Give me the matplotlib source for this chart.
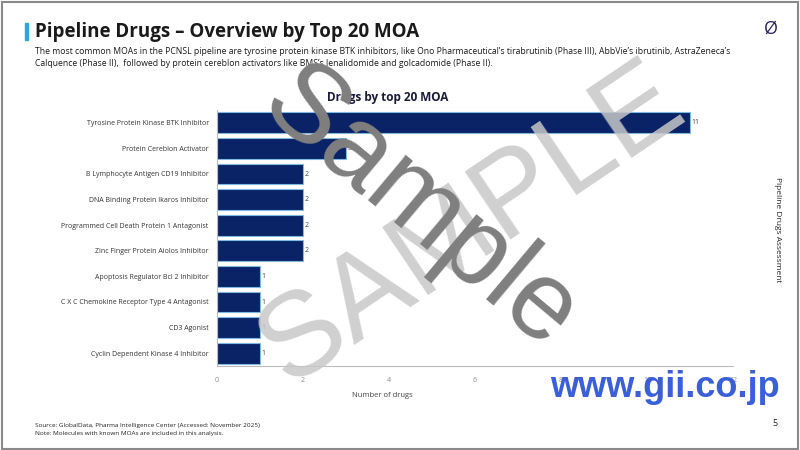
import matplotlib.pyplot as plt
from matplotlib.patches import Rectangle

moa = ['Tyrosine Protein Kinase BTK Inhibitor',
       'Protein Cereblon Activator',
       'B Lymphocyte Antigen CD19 Inhibitor',
       'DNA Binding Protein Ikaros Inhibitor',
       'Programmed Cell Death Protein 1 Antagonist',
       'Zinc Finger Protein Aiolos Inhibitor',
       'Apoptosis Regulator Bcl 2 Inhibitor',
       'C X C Chemokine Receptor Type 4 Antagonist',
       'CD3 Agonist',
       'Cyclin Dependent Kinase 4 Inhibitor']
drugs = [11, 3, 2, 2, 2, 2, 1, 1, 1, 1]
xticks = [0, 2, 4, 6, 8, 10, 12]

plt.rcParams['font.family'] = ['Open Sans', 'DejaVu Sans']

fig = plt.figure(figsize=(8, 4.5), dpi=100)
fig.patches.append(Rectangle((0.002, 0.003), 0.995, 0.993, transform=fig.transFigure,
                             fill=False, edgecolor='#8a8a8a', linewidth=1.5))

# header
fig.patches.append(Rectangle((25/800, 1-40/450), 3/800, 17/450, transform=fig.transFigure,
                             color='#29a8e0'))
fig.text(35/800, 1-32/450, 'Pipeline Drugs \u2013 Overview by Top 20 MOA', fontsize=13.5,
         fontweight='bold', color='#1a1a1a', va='center')
fig.text(35/800, 1-52/450,
         'The most common MOAs in the PCNSL pipeline are tyrosine protein kinase BTK inhibitors, like Ono Pharmaceutical\u2019s tirabrutinib (Phase III), AbbVie\u2019s ibrutinib, AstraZeneca\u2019s',
         fontsize=6.2, color='#1a1a1a', va='center')
fig.text(35/800, 1-64/450,
         'Calquence (Phase II),  followed by protein cereblon activators like BMS\u2019s lenalidomide and golcadomide (Phase II).',
         fontsize=6.2, color='#1a1a1a', va='center')
fig.text(771/800, 1-29/450, '\u00d8', fontsize=13, color='#2a2060', ha='center', va='center')
fig.text(777/800, 1-230/450, 'Pipeline Drugs Assessment', fontsize=6, color='#222222',
         rotation=270, ha='center', va='center')

# chart
ax = fig.add_axes([217/800, 1-366/450, 516/800, 256/450])
y = list(range(len(moa)))
ax.barh(y, drugs, height=0.82, color='#0a2266', edgecolor='#7fb8e0', linewidth=0.8)
for yi, v in zip(y, drugs):
    ax.text(v + 0.03, yi, str(v), fontsize=5, color='#444444', va='center')
ax.set_yticks(y)
ax.set_yticklabels(moa, fontsize=5, color='#333333')
ax.set_ylim(len(moa) - 0.5, -0.5)
ax.set_xlim(0, 12)
ax.set_xticks(xticks)
ax.set_xticklabels([str(t) for t in xticks], fontsize=5, color='#888888')
ax.tick_params(length=0, pad=8)
ax.tick_params(axis='y', pad=6)
for s in ['top', 'right']:
    ax.spines[s].set_visible(False)
ax.spines['left'].set_color('#bbbbbb')
ax.spines['bottom'].set_color('#bbbbbb')
ax.set_xlabel('Number of drugs', fontsize=5.5, color='#444444', labelpad=8)
ax.xaxis.set_label_coords(0.32, -0.1)
fig.text(388/800, 1-97/450, 'Drugs by top 20 MOA', fontsize=8.5, fontweight='bold',
         color='#1a1a3a', ha='center', va='center')

# footer
fig.text(35/800, 1-425/450, 'Source: GlobalData, Pharma Intelligence Center (Accessed: November 2025)',
         fontsize=4.6, color='#222222', va='center')
fig.text(35/800, 1-434/450, 'Note: Molecules with known MOAs are included in this analysis.',
         fontsize=4.6, color='#222222', va='center')
fig.text(775/800, 1-424/450, '5', fontsize=6.5, color='#222222', ha='center', va='center')

# watermarks
fig.text(472/800, 1-225/450, 'SAMPLE', fontsize=86, color='#c8c8c8', alpha=0.85,
         family=['Liberation Sans'], rotation=34, rotation_mode='anchor',
         ha='center', va='center', zorder=10)
fig.text(420/800, 1-210/450, 'Sample', fontsize=80, color='#7f7f7f',
         family=['Liberation Sans'], rotation=-40, rotation_mode='anchor',
         ha='center', va='center', zorder=11)
fig.text(665/800, 1-397/450, 'www.gii.co.jp', fontsize=26, color='#3a5fd8',
         fontweight='bold', family=['Liberation Sans'], ha='center', va='baseline', zorder=12)

fig.savefig('out.png', dpi=100)
